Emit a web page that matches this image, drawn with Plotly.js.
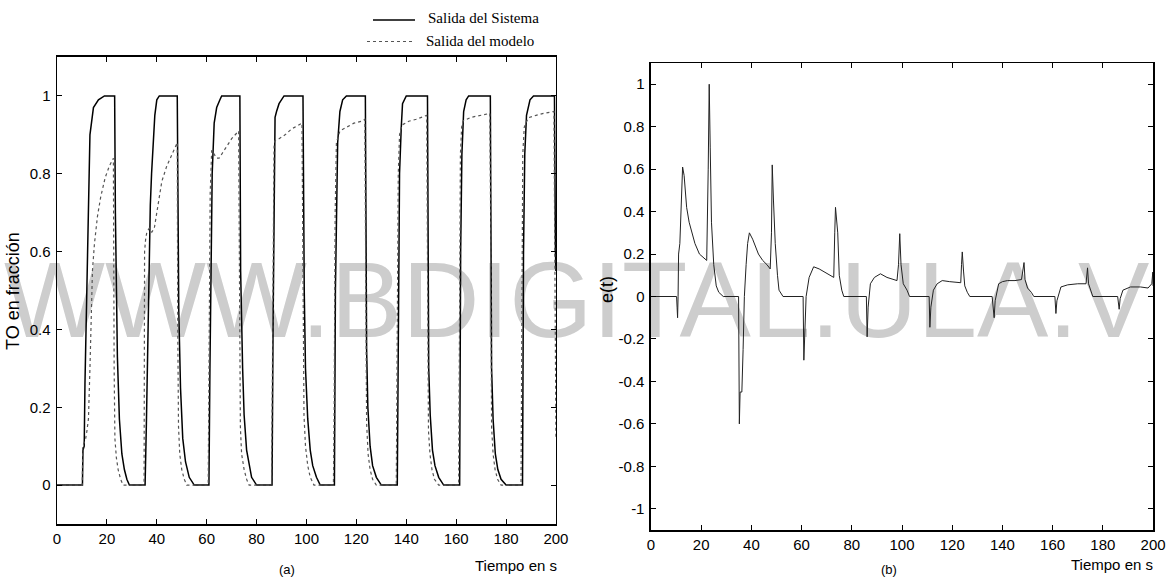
<!DOCTYPE html>
<html>
<head>
<meta charset="utf-8">
<script src="https://cdn.plot.ly/plotly-3.0.1.min.js"></script>
<style>html,body{margin:0;padding:0;background:#fff;}#chart{width:1166px;height:578px;}</style>
</head>
<body>
<div id="chart"></div>
<script>
// ---- Panel (a): system output vs model output ----
const tSistema = [0,10.2,10.4,10.9,11.2,11.9,12.6,13.2,14.6,16.6,19,23.1,23.4,23.8,24.2,25,26,27,28,29,
  35.3,35.8,36.3,36.8,37.4,37.9,38.5,39.2,40,41,48.2,48.5,48.8,49.5,50.4,51.5,53,55,
  60.9,61.3,61.7,62.2,63,64,65.3,66,73.3,73.6,74.4,75,76,77,78,80,
  86.2,86.6,87,87.4,88,89,91,98.6,99.1,99.6,100.5,101.5,102.5,104,105.5,
  111.2,111.6,112,112.5,113.4,114.5,116,123.6,124.1,124.6,125.5,126.5,128,130,
  136.4,136.8,137.3,138,138.5,140,148.5,149,149.6,150.5,151.5,153,155,
  161.4,161.8,162.3,163,164,165,173.7,174.2,174.8,175.7,176.7,178,180,
  186.6,187,187.5,188.2,189.6,191,199.4,199.8,200];
const ySistema = [0,0,0.09,0.1,0.26,0.51,0.77,0.9,0.97,0.99,1.0,1.0,0.7,0.45,0.33,0.17,0.08,0.04,0.015,0,
  0,0.15,0.35,0.55,0.72,0.8,0.88,0.95,0.99,1.0,1.0,0.8,0.45,0.25,0.12,0.06,0.02,0,
  0,0.3,0.6,0.8,0.93,0.97,0.99,1.0,1.0,0.55,0.3,0.18,0.09,0.05,0.02,0,
  0,0.4,0.8,0.945,0.96,0.98,1.0,1.0,0.5,0.3,0.17,0.09,0.05,0.02,0,
  0,0.5,0.75,0.88,0.96,0.99,1.0,1.0,0.35,0.2,0.1,0.05,0.02,0,
  0,0.5,0.8,0.92,0.98,1.0,1.0,0.3,0.18,0.09,0.05,0.02,0,
  0,0.6,0.85,0.96,0.99,1.0,1.0,0.3,0.17,0.08,0.04,0.015,0,
  0,0.6,0.85,0.95,0.99,1.0,1.0,0.6,0.55];

const tModelo = [0,10.1,10.3,11,11.5,12,12.6,13.2,13.7,14.2,15,16.2,17.5,19.3,21,22.6,22.9,23.2,23.8,24.5,25.5,26.5,
  34.9,35.1,35.5,36,37,38,39,40,42,44,46,48.2,48.4,48.7,49.2,50,51,52,
  60.6,60.9,61.4,62,63,64,65,66,68,70,72.8,73.1,73.5,74,75,76,77,
  86,86.2,86.6,87,87.4,89,91.4,94,98.2,98.6,99,99.6,100.5,101.5,103,
  110.8,111.1,111.5,112,113.4,116,119,122,123.4,123.7,124.1,124.7,125.5,126.5,128,
  136,136.4,136.8,137.3,138.2,141,144,148.2,148.5,148.9,149.5,150.3,151.3,153,
  161,161.3,161.7,162.2,162.8,166,170,173.5,173.8,174.2,174.8,175.6,176.6,178,
  186,186.3,186.7,187.3,188.9,192,195,199.2,199.5,199.8,200];
const yModelo = [0,0,0.1,0.11,0.12,0.14,0.17,0.3,0.42,0.55,0.62,0.69,0.74,0.79,0.82,0.84,0.3,0.12,0.07,0.04,0.015,0,
  0,0.6,0.63,0.65,0.66,0.65,0.66,0.7,0.78,0.82,0.85,0.88,0.4,0.15,0.08,0.04,0.015,0,
  0,0.3,0.75,0.86,0.85,0.84,0.84,0.85,0.87,0.89,0.91,0.5,0.15,0.08,0.04,0.015,0,
  0,0.2,0.7,0.87,0.885,0.89,0.9,0.915,0.93,0.5,0.18,0.1,0.05,0.02,0,
  0,0.2,0.7,0.88,0.91,0.92,0.93,0.935,0.94,0.6,0.16,0.08,0.04,0.015,0,
  0,0.3,0.8,0.9,0.925,0.935,0.94,0.95,0.7,0.14,0.08,0.04,0.015,0,
  0,0.3,0.85,0.92,0.936,0.945,0.95,0.955,0.7,0.15,0.08,0.04,0.015,0,
  0,0.3,0.85,0.92,0.944,0.95,0.955,0.96,0.6,0.2,0.12];

// ---- Panel (b): error e(t) ----
const tError = [0,10.2,10.4,10.6,10.8,11.0,11.5,12.0,12.6,13.2,14.2,15.2,16.2,17.5,19.3,21,22.2,22.8,23.2,23.6,24.1,25,26,27,28.8,
  34.9,35.2,35.5,36.2,36.7,37.2,37.9,38.5,39.2,40.5,42.8,44.5,46.2,47.5,48.0,48.3,48.8,49.5,50.4,51,52.6,
  60.6,60.9,61.2,61.8,63,64.8,67,70,72.8,73.2,73.5,74.4,75,76,76.8,
  85.8,86.1,86.5,87.4,89,91.4,94,98,98.6,99.1,99.6,100.5,102,103,
  110.8,111.1,111.5,112.5,114,116,119,123.4,123.7,124,124.5,125,126,127,
  135.9,136.2,136.7,137.1,138.5,140,142,145,147.6,148.1,148.6,149,150,151.5,152.5,
  160.9,161.3,161.7,163.3,166,170,173.3,173.6,173.9,174.3,175,176,
  185.9,186.5,186.9,188,191,195,198,199.5,199.9,200];
const yError = [0,0,-0.05,-0.1,0.0,0.2,0.25,0.45,0.61,0.57,0.42,0.35,0.3,0.25,0.2,0.18,0.17,0.6,1.0,0.7,0.35,0.15,0.05,0.02,0,
  0,-0.6,-0.45,-0.45,-0.25,0.0,0.15,0.25,0.3,0.27,0.2,0.17,0.15,0.13,0.3,0.62,0.45,0.25,0.1,0.03,0,
  0,-0.3,-0.2,0.0,0.09,0.14,0.13,0.11,0.09,0.3,0.42,0.3,0.1,0.03,0,
  0,-0.19,-0.05,0.06,0.09,0.107,0.09,0.075,0.15,0.296,0.15,0.06,0.03,0,
  0,-0.145,-0.05,0.03,0.06,0.075,0.07,0.065,0.15,0.21,0.12,0.05,0.02,0,
  0,-0.04,-0.1,-0.02,0.06,0.07,0.075,0.075,0.08,0.12,0.16,0.08,0.04,0.02,0,
  0,-0.08,-0.02,0.045,0.055,0.06,0.06,0.1,0.135,0.06,0.03,0,
  0,-0.06,-0.01,0.03,0.045,0.045,0.04,0.06,0.115,0.05];

const xTickVals = [0,20,40,60,80,100,120,140,160,180,200];
const xTickText = ["0","20","40","60","80","100","120","140","160","180","200"];
const yaTickVals = [0,0.2,0.4,0.6,0.8,1];
const yaTickText = ["0","0.2","0.4","0.6","0.8","1"];
const ybTickVals = [-1,-0.8,-0.6,-0.4,-0.2,0,0.2,0.4,0.6,0.8,1];
const ybTickText = ["-1","-0.8","-0.6","-0.4","-0.2","0","0.2","0.4","0.6","0.8","1"];

const seriesNames = ["Salida del Sistema","Salida del modelo"];
const seriesColors = ["#000","#555"];
const seriesDash = ["solid","dot"];

const W = 1166, H = 578;
const px = v => v / W, py = v => 1 - v / H;

const tickFont = {family: "'Liberation Sans', Arial, sans-serif", size: 15, color: "#000"};
const axisBase = {
  showline: true, linecolor: "#000", linewidth: 1.5, mirror: "allticks",
  ticks: "inside", ticklen: 5, tickwidth: 1, tickcolor: "#000",
  showgrid: false, zeroline: false, tickfont: tickFont, tickmode: "array", fixedrange: true,
  ticklabeloverflow: "allow"
};

const traces = [
  {x: tSistema, y: ySistema, name: seriesNames[0], type: "scatter", mode: "lines",
   line: {color: seriesColors[0], width: 1.5, dash: seriesDash[0]}, xaxis: "x", yaxis: "y"},
  {x: tModelo, y: yModelo, name: seriesNames[1], type: "scatter", mode: "lines",
   line: {color: seriesColors[1], width: 1.2, dash: seriesDash[1]}, xaxis: "x", yaxis: "y"},
  {x: tError, y: yError, name: "e(t)", type: "scatter", mode: "lines",
   line: {color: "#222", width: 1}, xaxis: "x2", yaxis: "y2"}
];

const labelFont = {family: "'Liberation Sans', Arial, sans-serif", size: 15, color: "#000"};
const legendFont = {family: "'Liberation Serif', 'Times New Roman', serif", size: 15, color: "#000"};

const layout = {
  width: W, height: H,
  margin: {l: 0, r: 0, t: 0, b: 0, pad: 0},
  paper_bgcolor: "#fff", plot_bgcolor: "rgba(0,0,0,0)",
  showlegend: false,
  xaxis: Object.assign({}, axisBase, {domain: [0.0489, 0.4768], range: [0, 200], tickvals: xTickVals, ticktext: xTickText, anchor: "y"}),
  yaxis: Object.assign({}, axisBase, {domain: [0.0934, 0.9014], range: [-0.1, 1.1], tickvals: yaTickVals, ticktext: yaTickText, anchor: "x", ticklabelstandoff: 2}),
  xaxis2: Object.assign({}, axisBase, {domain: [0.5583, 0.9889], range: [0, 200], tickvals: xTickVals, ticktext: xTickText, anchor: "y2"}),
  yaxis2: Object.assign({}, axisBase, {domain: [0.0830, 0.8910], range: [-1.1, 1.1], tickvals: ybTickVals, ticktext: ybTickText, anchor: "x2", ticklabelstandoff: 2}),
  shapes: [
    {type: "rect", xref: "paper", yref: "paper", x0: 0, x1: 1, y0: 0.298, y1: 0.698,
     line: {width: 0}, fillcolor: "rgba(0,0,0,0)", layer: "below",
     label: {text: "WWW.BDIGITAL.ULA.V", textposition: "middle left", padding: 1,
             font: {family: "'Liberation Sans', Arial, sans-serif", size: 107, color: "#cdcdcd"}}},
    // legend key lines
    {type: "line", xref: "paper", yref: "paper", x0: px(373), x1: px(415), y0: py(20), y1: py(20),
     line: {color: seriesColors[0], width: 1.3, dash: seriesDash[0]}},
    {type: "line", xref: "paper", yref: "paper", x0: px(367), x1: px(413), y0: py(41.5), y1: py(41.5),
     line: {color: seriesColors[1], width: 1.2, dash: seriesDash[1]}}
  ],
  annotations: [
    {text: seriesNames[0], xref: "paper", yref: "paper", x: px(426), y: py(18), showarrow: false,
     xanchor: "left", yanchor: "middle", font: legendFont},
    {text: seriesNames[1], xref: "paper", yref: "paper", x: px(424), y: py(41), showarrow: false,
     xanchor: "left", yanchor: "middle", font: legendFont},
    {text: "TO en fracción", xref: "paper", yref: "paper", x: px(13), y: py(291), textangle: -90,
     showarrow: false, xanchor: "center", yanchor: "middle", font: {family: "'Liberation Sans', Arial, sans-serif", size: 18, color: "#000"}},
    {text: "Tiempo en s", xref: "paper", yref: "paper", x: px(516), y: py(565),
     showarrow: false, xanchor: "center", yanchor: "middle", font: labelFont},
    {text: "(a)", xref: "paper", yref: "paper", x: px(287), y: py(569),
     showarrow: false, xanchor: "center", yanchor: "middle", font: {family: "'Liberation Sans', Arial, sans-serif", size: 13, color: "#000"}},
    {text: "e(t)", xref: "paper", yref: "paper", x: px(607), y: py(290), textangle: -90,
     showarrow: false, xanchor: "center", yanchor: "middle", font: {family: "'Liberation Sans', Arial, sans-serif", size: 18, color: "#000"}},
    {text: "Tiempo en s", xref: "paper", yref: "paper", x: px(1112), y: py(564),
     showarrow: false, xanchor: "center", yanchor: "middle", font: labelFont},
    {text: "(b)", xref: "paper", yref: "paper", x: px(889), y: py(569),
     showarrow: false, xanchor: "center", yanchor: "middle", font: {family: "'Liberation Sans', Arial, sans-serif", size: 13, color: "#000"}}
  ]
};

Plotly.newPlot("chart", traces, layout, {displayModeBar: false, staticPlot: true});
</script>
</body>
</html>
